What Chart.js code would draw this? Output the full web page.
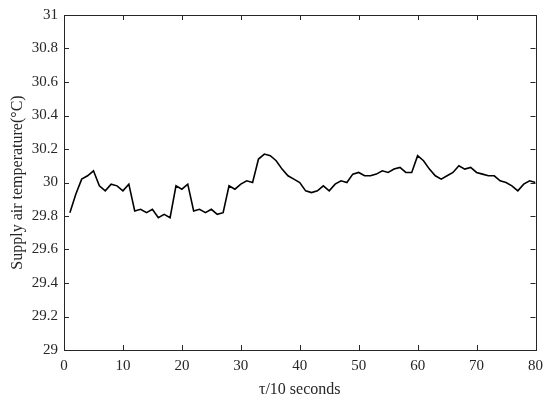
<!DOCTYPE html>
<html>
<head>
<meta charset="utf-8">
<script src="https://cdn.jsdelivr.net/npm/chart.js@4"></script>
<style>
  html, body { margin: 0; padding: 0; background: #fff; }
  #wrap { width: 550px; height: 400px; }
</style>
</head>
<body>
<div id="wrap"><canvas id="tempChart"></canvas></div>
<script>
const steps = [];
for (let i = 1; i <= 80; i++) steps.push(i);

const supplyTemp = [
  29.82, 29.93, 30.02, 30.04, 30.07, 29.98, 29.95, 29.99, 29.98, 29.95,
  29.99, 29.83, 29.84, 29.82, 29.84, 29.79, 29.81, 29.79, 29.98, 29.96,
  29.99, 29.83, 29.84, 29.82, 29.84, 29.81, 29.82, 29.98, 29.96, 29.99,
  30.01, 30.00, 30.14, 30.17, 30.16, 30.13, 30.08, 30.04, 30.02, 30.00,
  29.95, 29.94, 29.95, 29.98, 29.95, 29.99, 30.01, 30.00, 30.05, 30.06,
  30.04, 30.04, 30.05, 30.07, 30.06, 30.08, 30.09, 30.06, 30.06, 30.16,
  30.13, 30.08, 30.04, 30.02, 30.04, 30.06, 30.10, 30.08, 30.09, 30.06,
  30.05, 30.04, 30.04, 30.01, 30.00, 29.98, 29.95, 29.99, 30.01, 30.00
];

const xTicks = [0, 10, 20, 30, 40, 50, 60, 70, 80];
const yTicks = [29, 29.2, 29.4, 29.6, 29.8, 30, 30.2, 30.4, 30.6, 30.8, 31];

const FONT = "'Liberation Serif', 'Times New Roman', serif";

/* box + inward ticks, matlab style */
const boxPlugin = {
  id: "box",
  afterDraw(chart) {
    const ctx = chart.ctx;
    const a = chart.chartArea;
    const xs = chart.scales.x, ys = chart.scales.y;
    ctx.save();
    ctx.strokeStyle = "#262626";
    ctx.lineWidth = 1;
    ctx.strokeRect(Math.round(a.left) + 0.5, Math.round(a.top) + 0.5,
      Math.round(a.right - a.left), Math.round(a.bottom - a.top));
    ctx.beginPath();
    xTicks.forEach(v => {
      const px = Math.round(xs.getPixelForValue(v)) + 0.5;
      ctx.moveTo(px, a.bottom); ctx.lineTo(px, a.bottom - 5);
      ctx.moveTo(px, a.top); ctx.lineTo(px, a.top + 5);
    });
    yTicks.forEach(v => {
      const py = Math.round(ys.getPixelForValue(v)) + 0.5;
      ctx.moveTo(a.left, py); ctx.lineTo(a.left + 5, py);
      ctx.moveTo(a.right, py); ctx.lineTo(a.right - 5, py);
    });
    ctx.stroke();
    ctx.restore();
  }
};

new Chart(document.getElementById("tempChart"), {
  type: "line",
  data: {
    datasets: [{
      data: steps.map((s, i) => ({ x: s, y: supplyTemp[i] })),
      borderColor: "#000",
      borderWidth: 1.6,
      pointRadius: 0,
      tension: 0,
      fill: false
    }]
  },
  options: {
    responsive: true,
    maintainAspectRatio: false,
    animation: false,
    layout: { padding: { left: 0, right: 13, top: 11, bottom: 0 } },
    plugins: { legend: { display: false }, tooltip: { enabled: false } },
    scales: {
      x: {
        type: "linear",
        min: 0, max: 80,
        afterBuildTicks: s => { s.ticks = xTicks.map(v => ({ value: v })); },
        afterFit: s => { s.height = 50; },
        grid: { display: false, drawTicks: false },
        border: { display: false },
        ticks: { color: "#262626", font: { family: FONT, size: 15 }, padding: 7, maxRotation: 0 },
        title: { display: true, text: "\u03c4/10 seconds", color: "#262626",
                 font: { family: FONT, size: 16 }, padding: { top: 0, bottom: 1 } }
      },
      y: {
        min: 29, max: 31,
        afterBuildTicks: s => { s.ticks = yTicks.map(v => ({ value: v })); },
        afterFit: s => { s.width = 64; },
        grid: { display: false, drawTicks: false },
        border: { display: false },
        ticks: { color: "#262626", font: { family: FONT, size: 15 }, padding: 6,
                 callback: v => String(+v.toFixed(1)) },
        title: { display: true, text: "Supply air temperature(\u00b0C)", color: "#262626",
                 font: { family: FONT, size: 16 }, padding: { top: 8, bottom: 0 } }
      }
    }
  },
  plugins: [boxPlugin]
});
</script>
</body>
</html>
